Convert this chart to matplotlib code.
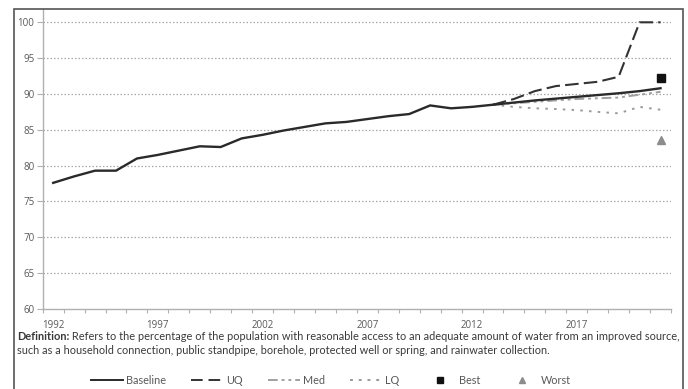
import matplotlib
matplotlib.use("Agg")
import matplotlib.pyplot as plt
from matplotlib.lines import Line2D
from matplotlib.patches import Rectangle
import numpy as np

years = list(range(1992, 2022))
baseline = [77.6, 78.5, 79.3, 79.3, 81.0, 81.5, 82.1, 82.7, 82.6, 83.8,
            84.3, 84.9, 85.4, 85.9, 86.1, 86.5, 86.9, 87.2, 88.4, 88.0,
            88.2, 88.5, 88.8, 89.1, 89.35, 89.6, 89.85, 90.1, 90.4, 90.8]
proj_years = list(range(2013, 2022))
uq = [88.5, 89.3, 90.4, 91.1, 91.4, 91.7, 92.4, 100.0, 100.0]
med = [88.5, 88.7, 88.9, 89.1, 89.3, 89.4, 89.5, 89.9, 90.3]
lq = [88.5, 88.2, 88.0, 87.9, 87.75, 87.5, 87.3, 88.2, 87.8]
best_year, best_val = 2021, 92.2
worst_year, worst_val = 2021, 83.55
yticks = [60, 65, 70, 75, 80, 85, 90, 95, 100]
xlabel_years = [1992, 1997, 2002, 2007, 2012, 2017]
definition_bold = "Definition:"
definition_line1 = (" Refers to the percentage of the population with reasonable access to an "
                    "adequate amount of water from an improved source,")
definition_line2 = ("such as a household connection, public standpipe, borehole, protected well "
                    "or spring, and rainwater collection.")

W, H = 688, 389
fig = plt.figure(figsize=(W / 100, H / 100), dpi=100)
fig.patch.set_facecolor("white")

ax_left, ax_right, ax_bottom, ax_top = 42.7, 671, 309, 9.3
ax = fig.add_axes([ax_left / W, 1 - ax_bottom / H, (ax_right - ax_left) / W,
                   (ax_bottom - ax_top) / H])
px_per_unit = (309 - 22.3) / 40.0
ax.set_ylim(60, 60 + (ax_bottom - ax_top) / px_per_unit)

idx = {y: i for i, y in enumerate(years)}
x_all = np.arange(len(years))
x_proj = [idx[y] for y in proj_years]

ax.set_xlim(-0.5, len(years) - 0.5)

tick_col = "#595959"
axis_col = "#b0b0b0"

# gridlines
for v in yticks[1:]:
    ax.axhline(v, color="#a8a8a8", lw=0.9, ls=(0, (1.2, 1.6)), zorder=1)

ax.plot(x_proj, lq, color="#9a9a9a", lw=1.4, ls=(0, (1.3, 3.2)), zorder=3)
ax.plot(x_proj, med, color="#a0a0a0", lw=1.4, ls=(0, (5, 2, 1.5, 2, 1.5, 2)), zorder=3)
ax.plot(x_proj, uq, color="#333333", lw=1.5, ls=(0, (6.5, 2.5)), zorder=4)
ax.plot(x_all, baseline, color="#2a2a2a", lw=1.7, zorder=5)
ax.plot([idx[best_year]], [best_val], marker="s", ms=5.5, color="#111111", ls="none", zorder=6)
ax.plot([idx[worst_year]], [worst_val], marker="^", ms=5.5, color="#8c8c8c", ls="none", zorder=6)

for s in ["top", "right"]:
    ax.spines[s].set_visible(False)
for s in ["left", "bottom"]:
    ax.spines[s].set_color(axis_col)
    ax.spines[s].set_linewidth(1.0)

ax.set_yticks(yticks)
ax.set_yticklabels([str(v) for v in yticks])
ax.tick_params(axis="y", length=4, width=0.8, color=axis_col, pad=2,
               labelsize=7, labelcolor=tick_col)
for t in ax.get_yticklabels():
    t.set_fontfamily("Open Sans")

ax.set_xticks([idx[y] for y in xlabel_years])
ax.set_xticklabels([str(y) for y in xlabel_years])
ax.set_xticks(np.arange(-0.5, len(years)), minor=True)
ax.tick_params(axis="x", which="major", length=0, pad=8, labelsize=7, labelcolor=tick_col)
ax.tick_params(axis="x", which="minor", length=3, width=0.8, color=axis_col)
for t in ax.get_xticklabels():
    t.set_fontfamily("Open Sans")

# outer frame
fig.patches.append(Rectangle((14 / W, -0.1), (683 - 14) / W, 1 - 9.3 / H + 0.1,
                             transform=fig.transFigure, fill=False,
                             edgecolor="#555555", lw=1.2, zorder=10))

# definition text
txt_col = "#3a3a3a"
fs = 7.9
tb = fig.text(17 / W, 1 - 340 / H, definition_bold, fontsize=fs, fontweight="bold",
              family="Lato", color=txt_col, va="baseline")
fig.canvas.draw()
r = fig.canvas.get_renderer()
bb = tb.get_window_extent(r)
t1 = fig.text(bb.x1 / W, 1 - 340 / H, definition_line1, fontsize=fs, family="Lato",
              color=txt_col, va="baseline")
t2 = fig.text(17 / W, 1 - 354 / H, definition_line2, fontsize=fs, family="Lato",
              color=txt_col, va="baseline")

handles = [
    Line2D([], [], color="#2a2a2a", lw=1.4),
    Line2D([], [], color="#333333", lw=1.4, ls=(0, (6, 3))),
    Line2D([], [], color="#a0a0a0", lw=1.4, ls=(0, (5, 2, 1.5, 2, 1.5, 2))),
    Line2D([], [], color="#9a9a9a", lw=1.4, ls=(0, (1.5, 3))),
    Line2D([], [], color="#111111", marker="s", ls="none", ms=5),
    Line2D([], [], color="#8c8c8c", marker="^", ls="none", ms=5),
]
labels = ["Baseline", "UQ", "Med", "LQ", "Best", "Worst"]
leg = fig.legend(handles, labels, loc="center", bbox_to_anchor=(331 / W, 1 - 380 / H),
                 ncol=6, frameon=False, handlelength=2.95,
                 handletextpad=0.3, columnspacing=2.3, prop={"family": "Lato", "size": 7.8})
for t in leg.get_texts():
    t.set_color(tick_col)

fig.savefig("out.png", dpi=100, facecolor="white")
